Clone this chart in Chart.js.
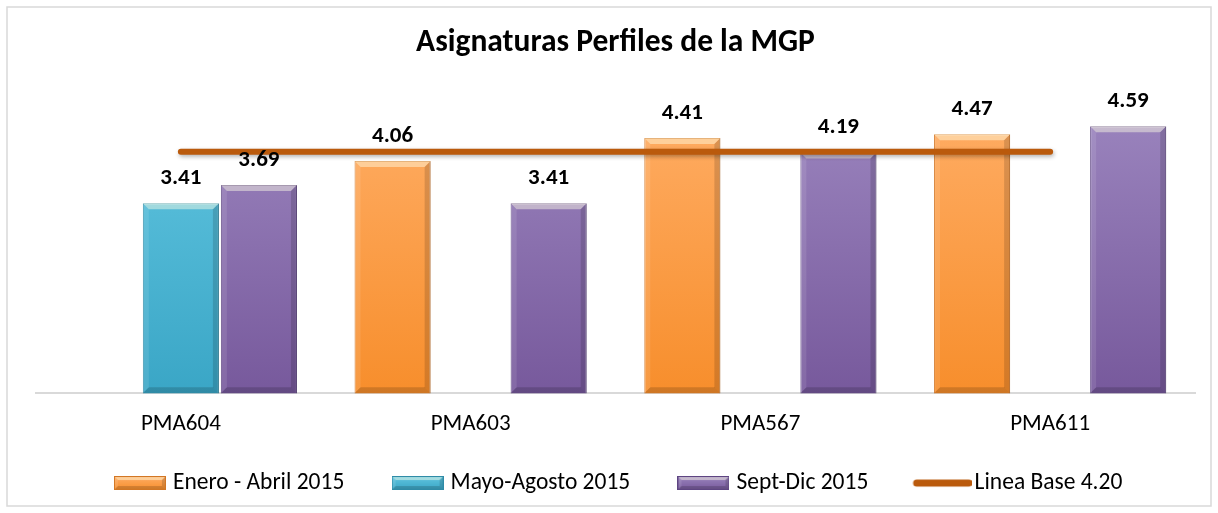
<!DOCTYPE html>
<html>
<head>
<meta charset="utf-8">
<script src="https://cdn.jsdelivr.net/npm/chart.js@4"></script>
<style>
  html, body { margin: 0; padding: 0; background: #fff; }
  #wrap { width: 1218px; height: 513px; }
</style>
</head>
<body>
<div id="wrap"><canvas id="chart1" width="1218" height="513"></canvas></div>
<script>
const categories = ['PMA604', 'PMA603', 'PMA567', 'PMA611'];
const eneroAbril = [null, 4.06, 4.41, 4.47];
const mayoAgosto = [3.41, null, null, null];
const septDic = [3.69, 3.41, 4.19, 4.59];
const lineaBase = [4.20, 4.20, 4.20, 4.20];

const FONT = 'Calibri, Carlito, Lato, sans-serif';

const colors = {
  orange: { top: '#FFAE66', bottom: '#F78E2C', edge: '#D27624' },
  cyan: { top: '#62C6E1', bottom: '#3AA6C6', edge: '#2F8BA7' },
  purple: { top: '#9C86BF', bottom: '#77599C', edge: '#5E4582' }
};
const lineColor = '#BA5A0C';

function barGradient(c) {
  return function (context) {
    const area = context.chart.chartArea;
    if (!area) return c.bottom;
    const g = context.chart.ctx.createLinearGradient(0, area.top, 0, area.bottom);
    g.addColorStop(0, c.top);
    g.addColorStop(1, c.bottom);
    return g;
  };
}

// bevel look on top of a plain rectangle
function bevel(ctx, l, t, r, b, s) {
  ctx.fillStyle = 'rgba(255,255,230,0.45)';
  ctx.beginPath();
  ctx.moveTo(l, t); ctx.lineTo(r, t); ctx.lineTo(r - s, t + s); ctx.lineTo(l + s, t + s);
  ctx.closePath(); ctx.fill();
  ctx.fillStyle = 'rgba(255,255,255,0.10)';
  ctx.beginPath();
  ctx.moveTo(l, t); ctx.lineTo(l + s, t + s); ctx.lineTo(l + s, b - s); ctx.lineTo(l, b);
  ctx.closePath(); ctx.fill();
  ctx.fillStyle = 'rgba(0,0,0,0.14)';
  ctx.beginPath();
  ctx.moveTo(r, t); ctx.lineTo(r - s, t + s); ctx.lineTo(r - s, b - s); ctx.lineTo(r, b);
  ctx.closePath(); ctx.fill();
  ctx.fillStyle = 'rgba(0,0,0,0.16)';
  ctx.beginPath();
  ctx.moveTo(l, b); ctx.lineTo(l + s, b - s); ctx.lineTo(r - s, b - s); ctx.lineTo(r, b);
  ctx.closePath(); ctx.fill();
}

function legendBox(c) {
  const cv = document.createElement('canvas');
  cv.width = 52; cv.height = 14;
  const ctx = cv.getContext('2d');
  const g = ctx.createLinearGradient(0, 0, 0, 14);
  g.addColorStop(0, c.top); g.addColorStop(1, c.bottom);
  ctx.fillStyle = g;
  ctx.fillRect(0, 0, 52, 14);
  bevel(ctx, 0, 0, 52, 14, 4);
  ctx.strokeStyle = c.edge; ctx.lineWidth = 1;
  ctx.strokeRect(0.5, 0.5, 51, 13);
  return cv;
}

function legendLine() {
  const cv = document.createElement('canvas');
  cv.width = 60; cv.height = 10;
  const ctx = cv.getContext('2d');
  ctx.strokeStyle = lineColor; ctx.lineWidth = 7; ctx.lineCap = 'round';
  ctx.beginPath(); ctx.moveTo(5, 5); ctx.lineTo(57, 5); ctx.stroke();
  return cv;
}

const legendIcons = [legendBox(colors.orange), legendBox(colors.cyan), legendBox(colors.purple), legendLine()];

const framePlugin = {
  id: 'frame',
  beforeDraw(chart) {
    const ctx = chart.ctx;
    ctx.save();
    ctx.fillStyle = '#fff';
    ctx.fillRect(0, 0, chart.width, chart.height);
    ctx.strokeStyle = '#D9D9D9';
    ctx.lineWidth = 1.5;
    ctx.strokeRect(7, 7, chart.width - 14, chart.height - 14);
    ctx.restore();
  },
  afterLayout(chart) {
    const lg = chart.legend;
    if (lg) {
      const dx = 5, dy = -28.5;
      lg.left += dx; lg.right += dx;
      lg.top += dy; lg.bottom += dy;
    }
  },
  beforeDatasetDraw(chart, args) {
    chart.ctx.save();
    if (args.meta.type === 'line') {
      chart.ctx.shadowColor = 'rgba(0,0,0,0.30)';
      chart.ctx.shadowBlur = 4;
      chart.ctx.shadowOffsetX = 1;
      chart.ctx.shadowOffsetY = 2;
    }
  },
  afterDatasetDraw(chart, args) {
    const ctx = chart.ctx;
    ctx.restore();
    const meta = args.meta;
    if (meta.type !== 'bar') return;
    const bottom = chart.chartArea.bottom;
    ctx.save();
    meta.data.forEach((el, i) => {
      const v = chart.data.datasets[args.index].data[i];
      if (v === null || v === undefined) return;
      const p = el.getProps(['x', 'y', 'base', 'width'], true);
      bevel(ctx, p.x - p.width / 2, p.y, p.x + p.width / 2, Math.min(p.base, bottom), 6);
    });
    ctx.restore();
  },
  afterDatasetsDraw(chart) {
    const ctx = chart.ctx;
    ctx.save();
    ctx.font = 'bold 23px ' + FONT;
    ctx.fillStyle = '#000';
    ctx.textAlign = 'center';
    ctx.textBaseline = 'middle';
    chart.data.datasets.forEach((ds, di) => {
      if (ds.type === 'line') return;
      const meta = chart.getDatasetMeta(di);
      meta.data.forEach((el, i) => {
        const v = ds.data[i];
        if (v === null || v === undefined) return;
        ctx.fillText(v.toFixed(2), el.x, el.y - 25);
      });
    });
    ctx.restore();
  }
};

new Chart(document.getElementById('chart1'), {
  type: 'bar',
  data: {
    labels: categories,
    datasets: [
      {
        label: 'Enero - Abril 2015',
        data: eneroAbril,
        backgroundColor: barGradient(colors.orange),
        borderColor: colors.orange.edge,
        borderWidth: 1,
        order: 1
      },
      {
        label: 'Mayo-Agosto 2015',
        data: mayoAgosto,
        backgroundColor: barGradient(colors.cyan),
        borderColor: colors.cyan.edge,
        borderWidth: 1,
        order: 1
      },
      {
        label: 'Sept-Dic 2015',
        data: septDic,
        backgroundColor: barGradient(colors.purple),
        borderColor: colors.purple.edge,
        borderWidth: 1,
        order: 1
      },
      {
        type: 'line',
        label: 'Linea Base 4.20',
        data: lineaBase,
        borderColor: lineColor,
        backgroundColor: lineColor,
        borderWidth: 6,
        borderCapStyle: 'round',
        pointRadius: 0,
        fill: false,
        order: 0
      }
    ]
  },
  options: {
    responsive: false,
    animation: false,
    categoryPercentage: 0.808,
    barPercentage: 0.975,
    layout: { padding: { left: 36, right: 23, top: 8, bottom: -20.3 } },
    scales: {
      x: {
        grid: { display: false },
        border: { display: true, color: '#D9D9D9', width: 2 },
        ticks: { color: '#000', padding: 9.5, font: { family: FONT, size: 23 } }
      },
      y: {
        display: false,
        min: 0.5,
        max: 5
      }
    },
    plugins: {
      title: {
        display: true,
        text: 'Asignaturas Perfiles de la MGP',
        color: '#000',
        font: { family: FONT, size: 31.5, weight: 'bold' },
        padding: { top: 16, bottom: 37.8 }
      },
      legend: {
        position: 'bottom',
        labels: {
          color: '#000',
          font: { family: FONT, size: 23.5 },
          usePointStyle: true,
          pointStyleWidth: 42.5,
          padding: 52,
          sort: (a, b) => a.datasetIndex - b.datasetIndex,
          generateLabels(chart) {
            const items = Chart.defaults.plugins.legend.labels.generateLabels(chart);
            items.forEach((it) => { it.pointStyle = legendIcons[it.datasetIndex]; });
            return items;
          }
        }
      },
      tooltip: { enabled: false }
    }
  },
  plugins: [framePlugin]
});
</script>
</body>
</html>
